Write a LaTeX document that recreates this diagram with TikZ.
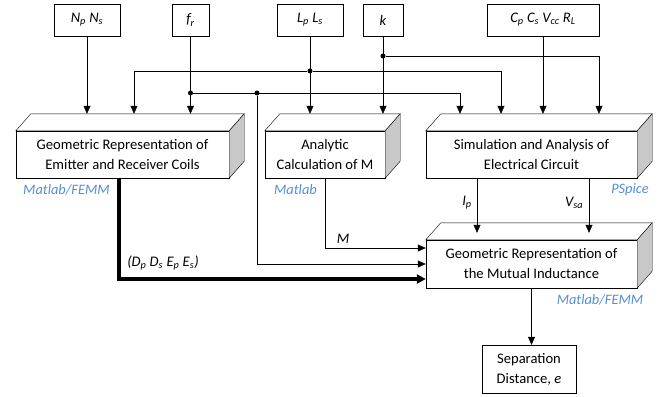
\documentclass[tikz,border=0pt]{standalone}
\usepackage{fontspec}
\setmainfont{Carlito}
\usetikzlibrary{arrows.meta}

\definecolor{toolblue}{RGB}{85,142,213}
\definecolor{sidegray}{RGB}{200,200,200}

\tikzset{
  block/.style={draw, fill=white, align=center, inner sep=0pt, minimum height=47pt, font=\fontsize{14.6}{20}\selectfont},
  param/.style={draw, minimum height=32pt, inner sep=0pt, font=\fontsize{14.6}{17}\selectfont\itshape},
  tool/.style={text=toolblue, font=\fontsize{14.4}{17}\selectfont\itshape},
  lbl/.style={font=\fontsize{14.6}{17}\selectfont\itshape},
  arr/.style={-{Triangle[length=8pt,width=7pt]}},
  bigarr/.style={line width=3.5pt, -{Triangle[length=9pt,width=9pt]}},
  dot/.style={circle, fill, inner sep=0pt, minimum size=5pt},
}

% top and side faces of a block, plus the point where inputs land
\newcommand{\cubeface}[1]{
  \draw[fill=white] (#1.north west) -- ++(15,-17) -- ([shift={(15,-17)}]#1.north east) -- (#1.north east) -- cycle;
  \draw[fill=sidegray] (#1.north east) -- ++(15,-17) -- ([shift={(15,-17)}]#1.south east) -- (#1.south east) -- cycle;
  \coordinate (#1top) at ([yshift=17pt]#1.north);
}

\begin{document}
\begin{tikzpicture}[x=1pt,y=-1pt]
\useasboundingbox (0,0) rectangle (663,396);

% Draw parameter boxes
\node[param, minimum width=66pt] (np) at (87,20) {N\textsubscript{p} N\textsubscript{s}};
\node[param, minimum width=37pt] (fr) at (190.5,20) {f\textsubscript{r}};
\node[param, minimum width=66pt] (lp) at (310,20) {L\textsubscript{p} L\textsubscript{s}};
\node[param, minimum width=40pt] (k) at (383,20) {k};
\node[param, minimum width=112pt] (cp) at (543,20) {C\textsubscript{p} C\textsubscript{s} V\textsubscript{cc} R\textsubscript{L}};

% Draw blocks
\node[block, minimum width=213pt] (geo) at (122.5,154.5) {Geometric Representation of\\Emitter and Receiver Coils};
\node[block, minimum width=120pt] (ana) at (325,154.5) {Analytic\\Calculation of M};
\node[block, minimum width=211pt] (sim) at (531.5,154.5) {Simulation and Analysis of\\Electrical Circuit};
\node[block, minimum width=211pt, minimum height=48pt] (mut) at (531.5,264) {Geometric Representation of\\the Mutual Inductance};
\node[block, minimum width=94pt, minimum height=48pt] (sep) at (529,369) {Separation\\Distance, \textit{e}};
\cubeface{geo}
\cubeface{ana}
\cubeface{sim}
\cubeface{mut}

% Tools used
\node[tool] (femm1) at (66.5,190) {Matlab/FEMM};
\node[tool] (matlab) at (295.5,190) {Matlab};
\node[tool] (pspice) at (630,190) {PSpice};
\node[tool] (femm2) at (600,300) {Matlab/FEMM};

% Junctions
\node[dot] (j1) at (fr.south |- 0,93) {};
\node[dot] (j2) at (257,93) {};
\node[dot] (j3) at (lp.south |- 0,71) {};
\node[dot] (j4) at (k.south |- 0,56) {};

% Inputs
\draw[arr] (np) -- (np |- geotop);
\draw[arr] (fr) -- (fr |- geotop);
\draw[arr] (lp) -- (lp |- anatop);
\draw[arr] (k) -- (k |- anatop);
\draw[arr] (cp) -- (cp |- simtop);
\draw[arr] (j1) -| ([xshift=-71.5pt]simtop);
\draw[arr] (j3) -| ([xshift=11.5pt]geotop);
\draw[arr] (j3) -| ([xshift=-30.5pt]simtop);
\draw[arr] (j4) -| ([xshift=67.5pt]simtop);
\draw[arr] (j2) |- (mut.west);

% Outputs
\draw[arr] (ana) |- ([yshift=16pt]mut.west);
\node[lbl] (mlbl) at (343,239) {M};
\draw[bigarr] ([xshift=-3.5pt]geo.south) |- ([yshift=-15pt]mut.west);
\node[lbl] (dims) at (163,263) {(D\textsubscript{p} D\textsubscript{s} E\textsubscript{p} E\textsubscript{s})};
\draw[arr] ([xshift=-54.5pt]sim.south) -- ([xshift=-54.5pt,yshift=7pt]mut.north);
\node[lbl] (ip) at (467,203) {I\textsubscript{p}};
\draw[arr] ([xshift=57.5pt]sim.south) -- ([xshift=57.5pt,yshift=7pt]mut.north);
\node[lbl] (vsa) at (574,203) {V\textsubscript{sa}};
\draw[arr] (mut.south) -- (mut.south |- sep.north);

\end{tikzpicture}
\end{document}
